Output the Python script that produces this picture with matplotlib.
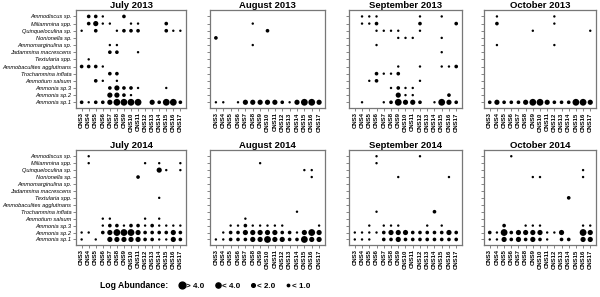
import numpy as np
import matplotlib
matplotlib.use('Agg')
import matplotlib.pyplot as plt
from matplotlib.lines import Line2D

plt.rcParams['font.family'] = ['Liberation Sans', 'DejaVu Sans']

# species, top to bottom
species = ['Ammodiscus sp.', 'Miliammina spp.', 'Quinqueloculina sp.', 'Nonionella sp.',
           'Ammomarginulina sp.', 'Jadammina macrescens', 'Textularia spp.',
           'Ammobaculites agglutinans', 'Trochammina inflata', 'Ammotium salsum',
           'Ammonia sp.3', 'Ammonia sp.2', 'Ammonia sp.1']
stations = ['CNS3', 'CNS4', 'CNS5', 'CNS6', 'CNS7', 'CNS8', 'CNS9', 'CNS10',
            'CNS11', 'CNS12', 'CNS13', 'CNS14', 'CNS15', 'CNS16', 'CNS17']

# abundance class: 0 none, 1 <1.0, 2 <2.0, 3 <4.0, 4 >4.0
jul13 = [[0,2,2,1,0,0,2,0,0,0,0,0,0,0,0],
         [0,2,3,1,1,0,0,1,1,0,0,0,2,0,0],
         [1,0,2,0,0,1,2,2,2,0,0,0,2,1,1],
         [0,0,0,0,0,0,0,0,0,0,0,0,0,0,0],
         [0,0,0,0,1,1,0,0,0,0,0,0,0,0,0],
         [0,0,0,0,2,2,0,0,1,0,0,0,0,0,0],
         [0,1,0,0,0,0,0,0,0,0,0,0,0,0,0],
         [2,2,2,1,0,0,0,0,0,0,0,0,0,0,0],
         [0,0,0,0,2,2,0,0,0,0,0,0,0,0,0],
         [0,0,2,1,0,1,0,0,0,0,0,0,0,0,0],
         [0,0,0,0,2,3,2,2,1,0,0,0,1,0,0],
         [0,0,0,0,3,3,2,1,0,0,0,0,0,0,0],
         [2,1,2,2,3,4,4,4,4,0,3,2,4,4,2]]

aug13 = [[0,0,0,0,0,0,0,0,0,0,0,0,0,0,0],
         [0,0,0,0,0,1,0,0,0,0,0,0,0,0,0],
         [0,0,0,0,0,0,0,2,0,0,0,0,0,0,0],
         [2,0,0,0,0,0,0,0,0,0,0,0,0,0,0],
         [0,0,0,0,0,1,0,0,0,0,0,0,0,0,0],
         [0,0,0,0,0,0,0,0,0,0,0,0,0,0,0],
         [0,0,0,0,0,0,0,0,0,0,0,0,0,0,0],
         [0,0,0,0,0,0,0,0,0,0,0,0,0,0,0],
         [0,0,0,0,0,0,0,0,0,0,0,0,0,0,0],
         [0,0,0,0,0,0,0,0,0,0,0,0,0,0,0],
         [0,0,0,0,0,0,0,0,0,0,0,0,0,0,0],
         [0,0,0,0,0,0,0,0,0,0,0,0,0,0,0],
         [1,1,0,1,3,3,3,3,3,2,1,3,4,4,3]]

sep13 = [[0,1,1,1,0,0,0,0,0,1,0,0,1,0,0],
         [0,1,1,2,0,0,0,0,0,2,0,0,0,0,2],
         [0,0,0,1,1,1,1,0,0,1,0,0,0,0,0],
         [0,0,0,0,0,0,1,1,1,0,0,0,1,0,0],
         [0,0,0,1,0,0,0,0,0,0,0,0,0,0,0],
         [0,0,0,0,0,0,0,0,0,0,0,0,1,0,0],
         [0,0,0,0,0,0,0,0,0,0,0,0,0,0,0],
         [0,0,0,0,0,0,1,0,0,1,0,0,1,1,2],
         [0,0,0,2,1,1,2,0,0,0,0,0,0,0,0],
         [0,0,1,2,0,0,0,0,0,1,0,0,0,0,0],
         [0,0,0,0,0,1,2,1,1,0,0,0,0,0,0],
         [0,0,0,0,0,0,3,1,1,0,0,0,0,2,0],
         [0,1,0,0,1,2,4,3,3,2,0,1,4,3,2]]

oct13 = [[0,1,0,0,0,0,0,0,0,1,0,0,0,0,0],
         [0,2,0,0,0,0,0,0,0,1,0,0,0,0,0],
         [0,0,0,0,0,0,1,0,0,0,0,0,0,0,1],
         [0,0,0,0,0,0,0,0,0,0,0,0,0,0,0],
         [0,1,0,0,0,0,0,0,0,1,0,0,0,0,0],
         [0,0,0,0,0,0,0,0,0,0,0,0,0,0,0],
         [0,0,0,0,0,0,0,0,0,0,0,0,0,0,0],
         [0,0,0,0,0,0,0,0,0,0,0,0,0,0,0],
         [0,0,0,0,0,0,0,0,0,0,0,0,0,0,0],
         [0,0,0,0,0,0,0,0,0,0,0,0,0,0,0],
         [0,0,0,0,0,0,0,0,0,0,0,0,0,0,0],
         [0,0,0,0,0,0,0,0,0,0,0,0,0,0,0],
         [2,3,2,2,2,3,4,4,3,2,2,2,4,4,3]]

jul14 = [[0,1,0,0,0,0,0,0,0,0,0,0,0,0,0],
         [0,1,0,0,0,0,0,0,0,1,0,1,0,0,1],
         [0,0,0,0,0,0,0,0,0,0,0,3,1,0,1],
         [0,0,0,0,0,0,0,0,2,0,0,0,0,0,0],
         [0,0,0,0,0,0,0,0,0,0,0,0,0,0,0],
         [0,0,0,0,0,0,0,0,0,0,0,0,0,0,0],
         [0,0,0,0,0,0,0,0,0,0,0,1,0,0,0],
         [0,0,0,0,0,0,0,0,0,0,0,0,0,0,0],
         [0,0,0,0,0,0,0,0,0,0,0,0,0,0,0],
         [0,0,0,1,1,0,0,0,0,1,0,1,0,0,0],
         [0,0,0,1,2,2,1,2,2,1,2,1,1,1,1],
         [1,1,0,2,3,4,4,4,3,2,2,2,2,3,2],
         [1,0,1,0,3,3,3,3,3,2,2,1,1,3,2]]

aug14 = [[0,0,0,0,0,0,0,0,0,0,0,0,0,0,0],
         [0,0,0,0,0,0,1,0,0,0,0,0,0,0,0],
         [0,0,0,0,0,0,0,0,0,0,0,0,1,1,0],
         [0,0,0,0,0,0,0,0,0,0,0,0,0,1,0],
         [0,0,0,0,0,0,0,0,0,0,0,0,0,0,0],
         [0,0,0,0,0,0,0,0,0,0,0,0,0,0,0],
         [0,0,0,0,0,0,0,0,0,0,0,0,0,0,0],
         [0,0,0,0,0,0,0,0,0,0,0,0,0,0,0],
         [0,0,0,0,0,0,0,0,0,0,0,1,0,0,0],
         [0,0,0,0,1,0,0,0,0,0,0,0,0,0,0],
         [0,0,1,1,2,1,1,1,1,1,0,0,0,0,1],
         [0,1,2,2,3,3,3,3,3,2,2,1,3,4,3],
         [1,1,2,2,2,3,3,4,3,3,2,2,4,3,3]]

sep14 = [[0,0,0,1,0,0,0,0,0,1,0,0,0,0,0],
         [0,0,0,1,0,0,0,0,0,0,0,0,0,0,0],
         [0,0,0,0,0,0,0,0,0,0,0,0,0,0,0],
         [0,0,0,0,0,0,1,0,0,0,0,0,0,1,0],
         [0,0,0,0,0,0,0,0,0,0,0,0,0,0,0],
         [0,0,0,0,0,0,0,0,0,0,0,0,0,0,0],
         [0,0,0,0,0,0,0,0,0,0,0,0,0,0,0],
         [0,0,0,0,0,0,0,0,0,0,0,0,0,0,0],
         [0,0,0,1,0,0,0,0,0,0,0,2,0,0,0],
         [0,0,0,0,0,0,0,0,0,0,0,0,0,0,0],
         [0,0,1,0,1,1,1,0,0,0,1,0,1,0,0],
         [1,1,1,1,2,3,3,3,2,2,2,2,2,3,2],
         [1,1,1,0,2,2,3,2,2,2,2,2,2,2,2]]

oct14 = [[0,0,0,1,0,0,0,0,0,0,0,0,0,0,0],
         [0,0,0,0,0,0,0,0,0,0,0,0,0,0,0],
         [0,0,0,0,0,0,0,0,0,0,0,0,0,1,0],
         [0,0,0,0,0,0,1,1,0,0,0,0,0,1,0],
         [0,0,0,0,0,0,0,0,0,0,0,0,0,0,0],
         [0,0,0,0,0,0,0,0,0,0,0,0,0,0,0],
         [0,0,0,0,0,0,0,0,0,0,0,2,0,0,0],
         [0,0,0,0,0,0,0,0,0,0,0,0,0,0,0],
         [0,0,0,0,0,0,0,0,0,0,0,0,0,0,0],
         [0,0,0,0,0,0,0,0,0,0,0,0,0,0,0],
         [0,0,2,0,0,1,1,1,0,0,0,0,0,1,1],
         [2,1,4,2,3,3,3,3,1,1,3,0,0,4,3],
         [1,1,3,2,3,2,3,2,1,0,2,2,0,3,3]]

titles = ['July 2013', 'August 2013', 'September 2013', 'October 2013',
          'July 2014', 'August 2014', 'September 2014', 'October 2014']
panels = [jul13, aug13, sep13, oct13, jul14, aug14, sep14, oct14]

legend_labels = ['> 4.0', '< 4.0', '< 2.0', '< 1.0']
dot_size = {1: 3, 2: 7, 3: 14, 4: 24}

W, H = 600, 297
fig = plt.figure(figsize=(6, 2.97), dpi=100)

lefts = [76, 210, 349, 484]
widths = [110, 115, 113, 112]
rows = [(10, 108), (150, 245)]  # top, bottom in pixels

ny = len(species)
for k, (title, data) in enumerate(zip(titles, panels)):
    r, c = divmod(k, 4)
    top, bot = rows[r]
    ax = fig.add_axes([lefts[c] / W, 1 - bot / H, widths[c] / W, (bot - top) / H])
    arr = np.array(data)
    yi, xi = np.nonzero(arr)
    s = [dot_size[v] for v in arr[yi, xi]]
    ax.scatter(xi, ny - 1 - yi, s=s, c='black', linewidths=0)
    ax.set_xlim(-0.8, len(stations) - 0.2)
    ax.set_ylim(-0.8, ny - 0.1)
    ax.set_xticks(range(len(stations)))
    ax.set_xticklabels(stations, rotation=90, fontsize=4.3, fontweight='bold')
    ax.set_yticks(range(ny))
    if c == 0:
        ax.set_yticklabels(species[::-1], fontsize=4.1, style='italic')
    else:
        ax.set_yticklabels([])
    ax.tick_params(length=2, width=0.5, pad=1.2, color='#555555')
    for sp in ax.spines.values():
        sp.set_color('#777777')
        sp.set_linewidth(0.9)
    ax.set_title(title, fontsize=6.8, fontweight='bold', pad=1.0)

fig.text(100 / W, 1 - 286 / H, 'Log Abundance:', fontsize=6.2, fontweight='bold',
         va='center', ha='left')
handles = [Line2D([], [], ls='none', marker='o', color='black',
                  markersize=np.sqrt(dot_size[v])) for v in [4, 3, 2, 1]]
fig.legend(handles, legend_labels, loc='center left',
           bbox_to_anchor=(176 / W, 1 - 286 / H), ncol=4, frameon=False,
           handlelength=0.6, handletextpad=0.2, columnspacing=1.3,
           borderpad=0, prop={'size': 5.8, 'weight': 'bold'})

fig.savefig('out.png', dpi=100)
